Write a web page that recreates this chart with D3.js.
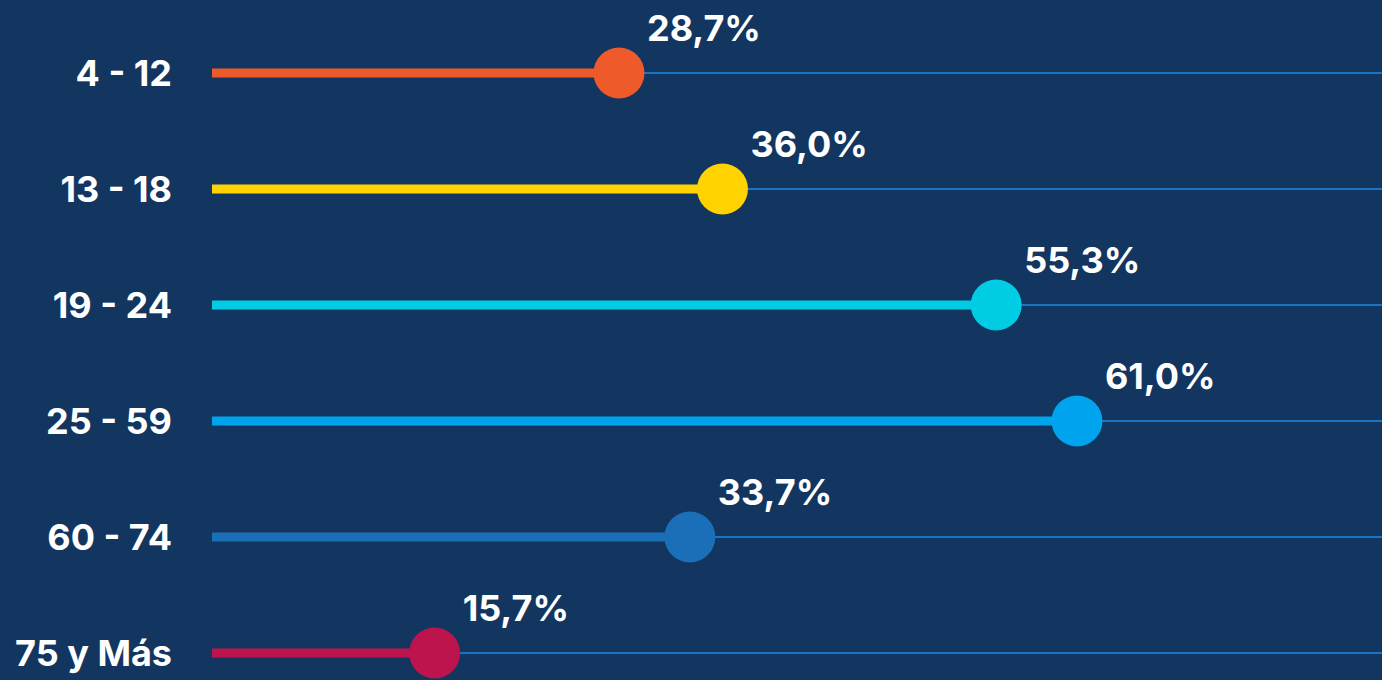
<!DOCTYPE html>
<html>
<head>
<meta charset="utf-8">
<script src="https://cdn.jsdelivr.net/npm/d3@7"></script>
<style>
  html, body { margin: 0; padding: 0; background: #12365f; overflow: hidden; }
  svg { display: block; }
  text { font-family: Inter, "Noto Sans", sans-serif; font-weight: 700; fill: #ffffff; }
</style>
</head>
<body>
<script>
const categories = ['4 - 12', '13 - 18', '19 - 24', '25 - 59', '60 - 74', '75 y Más'];
const values = [28.7, 36.0, 55.3, 61.0, 33.7, 15.7];
const colors = ['#ee5a2a', '#ffd200', '#00cde4', '#00a3ee', '#1b6fb8', '#be144e'];

const dataset = categories.map((c, i) => ({ cat: c, value: values[i], color: colors[i] }));

const width = 1382;
const height = 680;

const svg = d3.select('body')
  .append('svg')
  .attr('width', width)
  .attr('height', height);

svg.append('rect')
  .attr('width', width)
  .attr('height', height)
  .attr('fill', '#12365f');

const xScale = d3.scaleLinear()
  .domain([0, 100])
  .range([212, 212 + 1418]);

const yScale = d3.scalePoint()
  .domain(categories)
  .range([73, 653]);

const fmt = d => d.toFixed(1).replace('.', ',') + '%';

// gridlines
svg.selectAll('line.grid').data(dataset)
  .enter().append('line')
  .attr('class', 'grid')
  .attr('x1', xScale(0))
  .attr('x2', width)
  .attr('y1', d => yScale(d.cat))
  .attr('y2', d => yScale(d.cat))
  .attr('stroke', '#1a74c4')
  .attr('stroke-width', 2);

// stems
svg.selectAll('line.stem').data(dataset)
  .enter().append('line')
  .attr('class', 'stem')
  .attr('x1', xScale(0))
  .attr('x2', d => xScale(d.value))
  .attr('y1', d => yScale(d.cat))
  .attr('y2', d => yScale(d.cat))
  .attr('stroke', d => d.color)
  .attr('stroke-width', 9);

// dots
svg.selectAll('circle').data(dataset)
  .enter().append('circle')
  .attr('cx', d => xScale(d.value))
  .attr('cy', d => yScale(d.cat))
  .attr('r', 25.5)
  .attr('fill', d => d.color);

// category labels
svg.selectAll('text.cat').data(dataset)
  .enter().append('text')
  .attr('class', 'cat')
  .attr('x', 172)
  .attr('y', d => yScale(d.cat) + 13)
  .attr('text-anchor', 'end')
  .attr('font-size', 36)
  .text(d => d.cat);

// value labels
svg.selectAll('text.val').data(dataset)
  .enter().append('text')
  .attr('class', 'val')
  .attr('x', d => xScale(d.value) + 28)
  .attr('y', d => yScale(d.cat) - 32)
  .attr('font-size', 36)
  .text(d => fmt(d.value));
</script>
</body>
</html>
